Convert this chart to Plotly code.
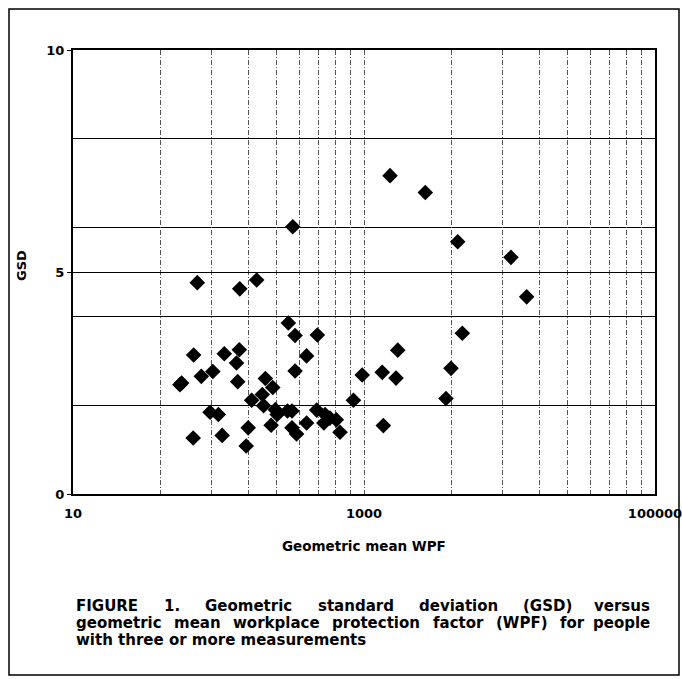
import plotly.graph_objects as go

# ---- data ----
wpf = [324, 71.5, 140, 183, 302, 336, 478, 67.5, 109.6, 139, 133, 403, 76.2, 91.4,
       135.5, 336, 54.3, 55.8, 210, 236, 200, 169, 846, 972, 204, 246, 253, 298, 320,
       87.5, 99.8, 473, 540, 530, 583, 645, 684, 403, 230, 320, 344, 160, 155, 67,
       106, 1510, 2638, 4406, 10230, 13120, 4740, 1706, 1335, 1660, 3963, 3660, 1358]
gsd = [6.02, 4.76, 4.62, 4.82, 3.85, 3.57, 3.58, 3.13, 3.16, 3.25, 2.95, 3.11, 2.65, 2.76,
       2.53, 2.77, 2.46, 2.50, 2.60, 2.40, 2.24, 2.11, 2.11, 2.68, 1.99, 1.90, 1.79, 1.87, 1.87,
       1.84, 1.79, 1.89, 1.79, 1.60, 1.71, 1.67, 1.39, 1.60, 1.55, 1.49, 1.35, 1.49, 1.08, 1.26,
       1.32, 7.17, 6.79, 5.68, 5.33, 4.44, 3.62, 3.24, 2.74, 2.61, 2.83, 2.15, 1.54]

x_ticks = [10, 1000, 100000]
x_tick_text = ["10", "1000", "100000"]
x_grid = [40, 90, 160, 250, 360, 490, 640, 810, 1000,
          4000, 9000, 16000, 25000, 36000, 49000, 64000, 81000]
y_ticks = [0, 5, 10]
y_grid = [2, 4, 6, 8]

x_title = "Geometric mean WPF"
y_title = "GSD"
caption_lines = [
    "FIGURE 1. Geometric standard deviation (GSD) versus",
    "geometric mean workplace protection factor (WPF) for people",
    "with three or more measurements",
]

# ---- layout geometry (pixels) ----
W, H = 682, 679
L, R, T, B = 73, 655, 50, 494
PW, PH = R - L, B - T
FONT = "DejaVu Sans"


def px2x(px):
    return (px - L) / PW


def py2y(py):
    return (B - py) / PH


# approximate DejaVu Sans Bold advance widths (em)
AW = {' ': .348, 'a': .675, 'b': .716, 'c': .595, 'd': .716, 'e': .678, 'f': .435,
      'g': .716, 'h': .712, 'i': .343, 'k': .665, 'l': .343, 'm': 1.042, 'n': .712,
      'o': .687, 'p': .716, 'r': .493, 's': .595, 't': .478, 'u': .712, 'v': .652,
      'w': .921, 'y': .652, 'E': .683, 'F': .683, 'G': .821, 'I': .372, 'R': .774,
      'S': .720, 'D': .833, 'U': .812, 'W': 1.103, 'P': .733, '(': .457, ')': .457,
      '.': .381, '1': .696}


def text_w(s, size):
    return sum(AW.get(c, .68) for c in s) * size


fig = go.Figure()
fig.add_trace(go.Scatter(
    x=wpf, y=gsd, mode="markers",
    marker=dict(symbol="diamond", size=12, color="black", line=dict(width=0)),
    showlegend=False, hoverinfo="x+y"))

# all x grid positions carry a tick; only the decade ticks get a label
all_x = sorted(set(x_grid + x_ticks))
all_x_text = ["<b>%s</b>" % x_tick_text[x_ticks.index(v)] if v in x_ticks else "" for v in all_x]

grid_dash = "5px,2px,1px,2px"
fig.update_xaxes(
    type="log", range=[1, 5],
    tickmode="array", tickvals=all_x, ticktext=all_x_text,
    tickfont=dict(family=FONT, size=13, color="black"),
    ticks="", ticklabelstandoff=6, ticklabeloverflow="allow",
    showline=True, linecolor="black", linewidth=2, mirror=True,
    showgrid=True, gridcolor="#555", gridwidth=1, griddash=grid_dash,
    zeroline=False, fixedrange=True, automargin=False,
)
fig.update_yaxes(
    range=[0, 10],
    tickmode="array", tickvals=y_ticks,
    ticktext=["<b>%d</b>" % t for t in y_ticks],
    tickfont=dict(family=FONT, size=13, color="black"),
    ticks="outside", ticklen=4, tickcolor="black", ticklabeloverflow="allow",
    showline=True, linecolor="black", linewidth=2, mirror=True,
    showgrid=True, gridcolor="black", gridwidth=1,
    minor=dict(tickmode="array", tickvals=y_grid, showgrid=True,
               gridcolor="black", gridwidth=1, ticks=""),
    zeroline=False, fixedrange=True, automargin=False,
)

annotations = []
annotations.append(dict(
    x=px2x((L + R) / 2), y=py2y(546), xref="paper", yref="paper",
    text="<b>%s</b>" % x_title, showarrow=False,
    font=dict(family=FONT, size=13.5, color="black"), xanchor="center", yanchor="middle"))
annotations.append(dict(
    x=px2x(21), y=py2y(266), xref="paper", yref="paper",
    text="<b>%s</b>" % y_title, showarrow=False, textangle=-90,
    font=dict(family=FONT, size=13, color="black"), xanchor="center", yanchor="middle"))

# caption, first two lines justified word by word
CAP_SIZE = 15
cap_left, cap_right = 74, 652
cap_y = [606, 623, 640]
for i, line in enumerate(caption_lines):
    if i < 2:
        words = line.split(" ")
        widths = [text_w(w, CAP_SIZE) for w in words]
        gap = (cap_right - cap_left - sum(widths)) / (len(words) - 1)
        xpos = cap_left
        for j, (w, wd) in enumerate(zip(words, widths)):
            last = j == len(words) - 1
            annotations.append(dict(
                x=px2x(cap_right if last else xpos), y=py2y(cap_y[i]),
                xref="paper", yref="paper",
                text="<b>%s</b>" % w, showarrow=False,
                xanchor="right" if last else "left", yanchor="middle",
                font=dict(family=FONT, size=CAP_SIZE, color="black")))
            xpos += wd + gap
    else:
        annotations.append(dict(
            x=px2x(cap_left), y=py2y(cap_y[i]), xref="paper", yref="paper",
            text="<b>%s</b>" % line, showarrow=False, xanchor="left", yanchor="middle",
            font=dict(family=FONT, size=CAP_SIZE, color="black")))

shapes = [dict(type="rect", xref="paper", yref="paper",
               x0=px2x(9), x1=px2x(679), y0=py2y(675), y1=py2y(9),
               line=dict(color="black", width=1.5), fillcolor="rgba(0,0,0,0)", layer="below")]

fig.update_layout(
    width=W, height=H,
    margin=dict(l=L, r=W - R, t=T, b=H - B, pad=0, autoexpand=False),
    paper_bgcolor="white", plot_bgcolor="white",
    annotations=annotations, shapes=shapes,
    font=dict(family=FONT, color="black"),
)

fig.write_html("out.html",
               config={"displayModeBar": False},
               post_script="document.body.style.margin='0px';document.body.style.overflow='hidden';")
